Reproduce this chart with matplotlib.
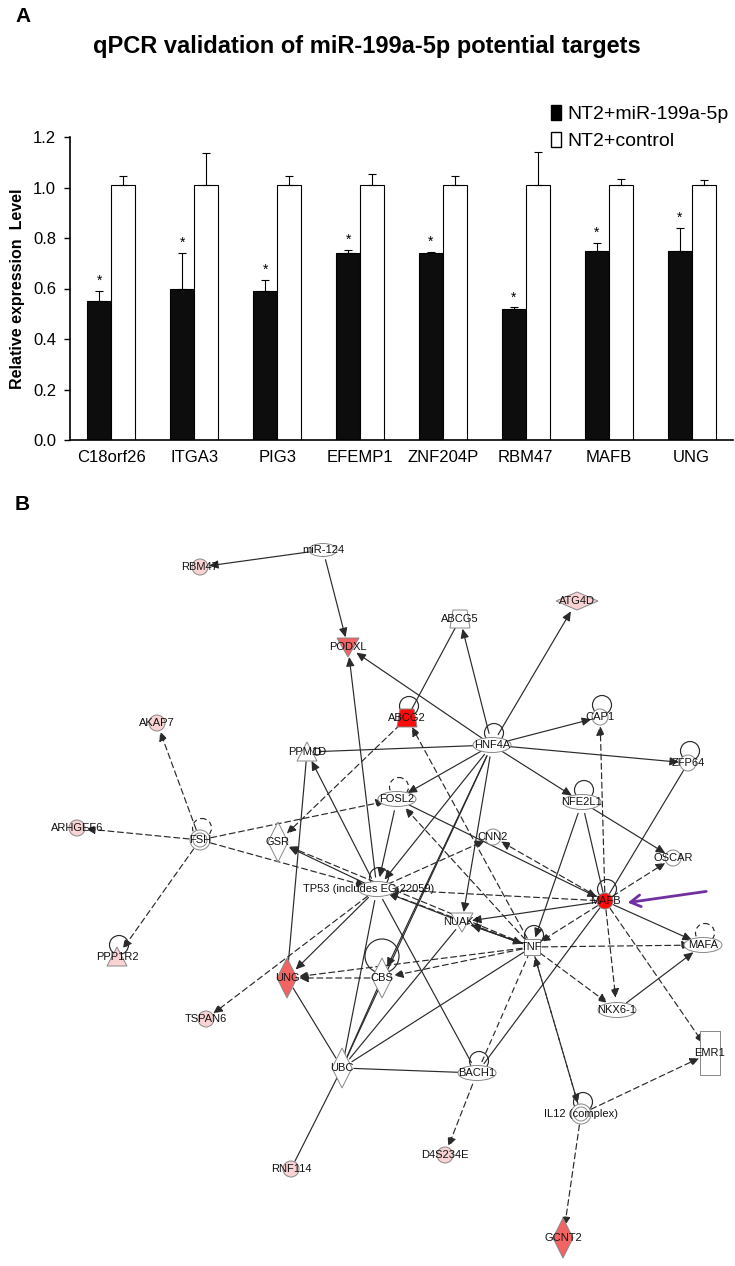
import matplotlib.pyplot as plt
import numpy as np
from matplotlib.patches import Patch, Circle, Ellipse, Polygon, Rectangle

plt.rcParams['font.family'] = ['Liberation Sans Narrow', 'Liberation Sans', 'DejaVu Sans']

# ---- panel A data ----
genes = ['C18orf26', 'ITGA3', 'PIG3', 'EFEMP1', 'ZNF204P', 'RBM47', 'MAFB', 'UNG']
mir_vals = [0.55, 0.60, 0.59, 0.74, 0.74, 0.52, 0.75, 0.75]
mir_err = [0.04, 0.14, 0.045, 0.012, 0.005, 0.005, 0.03, 0.09]
ctrl_vals = [1.01, 1.01, 1.01, 1.01, 1.01, 1.01, 1.01, 1.01]
ctrl_err = [0.035, 0.125, 0.035, 0.045, 0.035, 0.13, 0.025, 0.02]
yticks = [0.0, 0.2, 0.4, 0.6, 0.8, 1.0, 1.2]

# ---- panel B data (network layout, pixel positions) ----
node_names = ['miR-124', 'RBM47', 'PODXL', 'ATG4D', 'ABCG5', 'AKAP7', 'ABCG2', 'CAP1',
              'HNF4A', 'PPM1D', 'ZFP64', 'FOSL2', 'NFE2L1', 'ARHGEF6', 'FSH', 'GSR',
              'CNN2', 'OSCAR', 'TP53', 'MAFB', 'NUAK1', 'TNF', 'MAFA', 'PPP1R2', 'UNG',
              'CBS', 'NKX6-1', 'TSPAN6', 'EMR1', 'UBC', 'BACH1', 'IL12', 'D4S234E',
              'RNF114', 'GCNT2']
node_labels = ['miR-124', 'RBM47', 'PODXL', 'ATG4D', 'ABCG5', 'AKAP7', 'ABCG2', 'CAP1',
               'HNF4A', 'PPM1D', 'ZFP64', 'FOSL2', 'NFE2L1', 'ARHGEF6', 'FSH', 'GSR',
               'CNN2', 'OSCAR', 'TP53 (includes EG:22059)', 'MAFB', 'NUAK1', 'TNF', 'MAFA',
               'PPP1R2', 'UNG', 'CBS', 'NKX6-1', 'TSPAN6', 'EMR1', 'UBC', 'BACH1',
               'IL12 (complex)', 'D4S234E', 'RNF114', 'GCNT2']
node_x = [323, 200, 348, 577, 460, 157, 407, 600, 492, 307, 688, 397, 582, 77, 200, 278,
          493, 673, 377, 605, 462, 532, 703, 117, 287, 382, 617, 206, 710, 342, 477, 581,
          445, 291, 563]
node_y = [550, 567, 647, 601, 619, 723, 718, 717, 745, 752, 763, 799, 802, 828, 840, 842,
          837, 858, 889, 901, 922, 947, 945, 957, 978, 978, 1010, 1019, 1053, 1068, 1073,
          1114, 1155, 1169, 1238]
node_shape = ['mir', 'circle', 'tri_down', 'flat_diamond', 'trap', 'circle', 'trap', 'circle',
              'ellipse', 'tri_up', 'circle', 'ellipse', 'ellipse', 'circle', 'dcircle', 'diamond',
              'circle', 'circle', 'ellipse', 'circle', 'tri_down', 'square', 'ellipse', 'tri_up',
              'diamond', 'diamond', 'ellipse', 'circle', 'rect', 'diamond', 'ellipse', 'dcircle',
              'circle', 'circle', 'diamond']
node_color = ['white', 'pink', 'mid', 'pink', 'white', 'pink', 'red', 'white',
              'white', 'white', 'white', 'white', 'white', 'pink', 'white', 'white',
              'white', 'white', 'white', 'red', 'white', 'white', 'white', 'pink',
              'mid', 'white', 'white', 'pink', 'white', 'white', 'white', 'white',
              'pink', 'pink', 'mid']

# edges: source, target, line style, end type
edges = [
    ('miR-124', 'RBM47', '-', 'arrow'), ('miR-124', 'PODXL', '-', 'arrow'),
    ('HNF4A', 'PODXL', '-', 'arrow'), ('TP53', 'PODXL', '-', 'arrow'),
    ('HNF4A', 'ABCG5', '-', 'arrow'), ('ABCG2', 'ABCG5', '-', 'none'),
    ('HNF4A', 'ATG4D', '-', 'arrow'), ('HNF4A', 'CAP1', '-', 'arrow'),
    ('HNF4A', 'ZFP64', '-', 'arrow'), ('HNF4A', 'NFE2L1', '-', 'arrow'),
    ('HNF4A', 'FOSL2', '-', 'arrow'), ('HNF4A', 'PPM1D', '-', 'circle'),
    ('HNF4A', 'NUAK1', '-', 'arrow'), ('HNF4A', 'TP53', '-', 'arrow'),
    ('HNF4A', 'UBC', '-', 'none'), ('HNF4A', 'CBS', '-', 'arrow'),
    ('FOSL2', 'TP53', '-', 'arrow'), ('FOSL2', 'MAFB', '-', 'arrow'),
    ('MAFB', 'CNN2', '--', 'arrow'), ('TP53', 'CNN2', '--', 'arrow'),
    ('NFE2L1', 'OSCAR', '-', 'arrow'), ('NFE2L1', 'TNF', '-', 'arrow'),
    ('NFE2L1', 'MAFB', '-', 'none'), ('MAFB', 'CAP1', '--', 'arrow'),
    ('ZFP64', 'MAFB', '-', 'none'), ('MAFB', 'OSCAR', '--', 'arrow'),
    ('MAFB', 'MAFA', '-', 'arrow'), ('MAFB', 'NUAK1', '-', 'arrow'),
    ('MAFB', 'TP53', '--', 'arrow'), ('MAFB', 'TNF', '--', 'arrow'),
    ('MAFB', 'NKX6-1', '--', 'arrow'), ('MAFB', 'EMR1', '--', 'arrow'),
    ('MAFB', 'BACH1', '-', 'none'), ('TNF', 'ABCG2', '--', 'arrow'),
    ('ABCG2', 'GSR', '--', 'arrow'), ('FSH', 'AKAP7', '--', 'arrow'),
    ('FSH', 'ARHGEF6', '--', 'arrow'), ('FSH', 'PPP1R2', '--', 'arrow'),
    ('FSH', 'FOSL2', '--', 'arrow'), ('FSH', 'TP53', '--', 'arrow'),
    ('TP53', 'TSPAN6', '--', 'arrow'), ('TP53', 'GSR', '-', 'arrow'),
    ('TNF', 'GSR', '--', 'arrow'), ('PPM1D', 'UNG', '-', 'none'),
    ('TP53', 'PPM1D', '-', 'arrow'), ('TP53', 'UNG', '-', 'arrow'),
    ('TNF', 'UNG', '--', 'arrow'), ('TNF', 'CBS', '--', 'arrow'),
    ('CBS', 'UNG', '--', 'arrow'), ('NUAK1', 'TNF', '-', 'arrow'),
    ('TNF', 'NUAK1', '-', 'arrow'), ('NUAK1', 'TP53', '-', 'arrow'),
    ('UBC', 'TP53', '-', 'none'), ('UBC', 'CBS', '-', 'none'),
    ('UBC', 'NUAK1', '-', 'none'), ('UBC', 'TNF', '-', 'none'),
    ('UBC', 'BACH1', '-', 'none'), ('UBC', 'UNG', '-', 'none'),
    ('UBC', 'RNF114', '-', 'none'), ('TP53', 'BACH1', '-', 'none'),
    ('BACH1', 'D4S234E', '--', 'arrow'), ('TNF', 'IL12', '--', 'arrow'),
    ('IL12', 'TNF', '--', 'arrow'), ('IL12', 'GCNT2', '--', 'arrow'),
    ('IL12', 'EMR1', '--', 'arrow'), ('TNF', 'NKX6-1', '--', 'arrow'),
    ('TNF', 'MAFA', '--', 'arrow'), ('NKX6-1', 'MAFA', '-', 'arrow'),
    ('TNF', 'TP53', '--', 'arrow'), ('TNF', 'FOSL2', '--', 'arrow'),
    ('BACH1', 'TNF', '--', 'none'),
]
loops_solid = ['HNF4A', 'ABCG2', 'CAP1', 'ZFP64', 'NFE2L1', 'MAFB', 'TNF', 'BACH1',
               'IL12', 'PPP1R2', 'TP53']
loops_dashed = ['FSH', 'FOSL2', 'MAFA']

fills = {'white': 'white', 'pink': '#f9d3d3', 'mid': '#f26464', 'red': '#ff0a0a'}

fig = plt.figure(figsize=(7.35, 12.66), dpi=100)

# ================= panel A =================
ax = fig.add_axes([70 / 735, 1 - 440 / 1266, 663 / 735, 303 / 1266])
x = np.arange(len(genes)) + 0.5
w = 0.29
ax.bar(x - w / 2, mir_vals, w, color='#0d0d0d', edgecolor='black', linewidth=0.8)
ax.bar(x + w / 2, ctrl_vals, w, color='white', edgecolor='black', linewidth=0.8)
ax.errorbar(x - w / 2, mir_vals, yerr=[np.zeros(len(genes)), mir_err], fmt='none',
            ecolor='black', elinewidth=0.8, capsize=3, capthick=0.8)
ax.errorbar(x + w / 2, ctrl_vals, yerr=[np.zeros(len(genes)), ctrl_err], fmt='none',
            ecolor='black', elinewidth=0.8, capsize=3, capthick=0.8)
for xi, v, e in zip(x - w / 2, mir_vals, mir_err):
    ax.text(xi, v + e + 0.012, '*', ha='center', va='bottom', fontsize=10)
ax.set_xlim(0, len(genes))
ax.set_ylim(0, 1.2)
ax.set_yticks(yticks)
ax.set_yticklabels([f'{t:.1f}' for t in yticks], fontsize=12)
ax.set_xticks(x)
ax.set_xticklabels(genes, fontsize=12)
ax.tick_params(axis='x', length=0, pad=7)
ax.tick_params(axis='y', direction='out', length=4, width=1, pad=6)
for s in ['top', 'right']:
    ax.spines[s].set_visible(False)
ax.spines['left'].set_linewidth(1.2)
ax.spines['bottom'].set_linewidth(1.2)
ax.set_ylabel('Relative expression  Level', fontsize=11.5, fontweight='bold',
              family=['Liberation Sans', 'DejaVu Sans'], labelpad=6)

fig.text(15 / 735, 1 - 17 / 1266, 'A', fontsize=15, fontweight='bold',
         family=['Liberation Sans', 'DejaVu Sans'], va='center')
fig.text(367 / 735, 1 - 46 / 1266, 'qPCR validation of miR-199a-5p potential targets',
         fontsize=17, fontweight='bold', ha='center', va='center')

handles = [Patch(facecolor='black', edgecolor='black'),
           Patch(facecolor='white', edgecolor='black')]
fig.legend(handles, ['NT2+miR-199a-5p', 'NT2+control'], loc='upper left',
           bbox_to_anchor=(543 / 735, 1 - 97 / 1266), frameon=False, fontsize=14,
           handlelength=0.55, handleheight=0.8, handletextpad=0.3, labelspacing=0.45,
           borderaxespad=0)

# ================= panel B =================
bx = fig.add_axes([0, 0, 1, 796 / 1266])
bx.set_xlim(0, 735)
bx.set_ylim(1266, 470)
bx.axis('off')
fig.text(15 / 735, 1 - 505 / 1266, 'B', fontsize=15, fontweight='bold',
         family=['Liberation Sans', 'DejaVu Sans'], va='center')

pos = {n: (px, py) for n, px, py in zip(node_names, node_x, node_y)}
shape_of = dict(zip(node_names, node_shape))
radius = {'circle': 9, 'dcircle': 11, 'ellipse': 12, 'diamond': 12, 'flat_diamond': 12,
          'tri_up': 10, 'tri_down': 10, 'trap': 10, 'square': 10, 'rect': 12, 'mir': 10}

for src, dst, ls, end in edges:
    x0, y0 = pos[src]
    x1, y1 = pos[dst]
    d = np.hypot(x1 - x0, y1 - y0)
    ux, uy = (x1 - x0) / d, (y1 - y0) / d
    r0 = radius[shape_of[src]]
    r1 = radius[shape_of[dst]]
    sx, sy = x0 + ux * r0, y0 + uy * r0
    ex, ey = x1 - ux * r1, y1 - uy * r1
    lstyle = (0, (5, 3)) if ls == '--' else '-'
    if end == 'arrow':
        bx.annotate('', xy=(ex, ey), xytext=(sx, sy),
                    arrowprops=dict(arrowstyle='-|>,head_length=0.55,head_width=0.25',
                                    color='#2a2a2a', lw=0.85, linestyle=lstyle,
                                    shrinkA=0, shrinkB=0, mutation_scale=10), zorder=1)
    else:
        bx.plot([sx, ex], [sy, ey], color='#2a2a2a', lw=0.85, linestyle=lstyle, zorder=1)
        if end == 'circle':
            bx.add_patch(Circle((ex, ey), 3.5, facecolor='white', edgecolor='#2a2a2a',
                                lw=0.9, zorder=2))

for n in loops_solid + loops_dashed:
    px, py = pos[n]
    ls = (0, (4, 3)) if n in loops_dashed else '-'
    bx.add_patch(Circle((px + 2, py - 12), 9.5, fill=False, edgecolor='#2a2a2a', lw=0.85,
                        linestyle=ls, zorder=1.5))
# big loop on CBS
bx.add_patch(Circle((pos['CBS'][0], pos['CBS'][1] - 22), 17, fill=False,
                    edgecolor='#2a2a2a', lw=0.85, zorder=1.5))

ec = '#888888'
for n, lab, shp, col in zip(node_names, node_labels, node_shape, node_color):
    px, py = pos[n]
    fc = fills[col]
    if shp == 'circle':
        p = Circle((px, py), 8, facecolor=fc, edgecolor=ec, lw=0.7)
    elif shp == 'dcircle':
        bx.add_patch(Circle((px, py), 10, facecolor='white', edgecolor=ec, lw=0.7, zorder=3))
        p = Circle((px, py), 7, facecolor='white', edgecolor=ec, lw=0.7)
    elif shp == 'ellipse':
        p = Ellipse((px, py), 38, 15, facecolor=fc, edgecolor=ec, lw=0.7)
    elif shp == 'diamond':
        p = Polygon([(px, py - 20), (px + 10, py), (px, py + 20), (px - 10, py)],
                    facecolor=fc, edgecolor=ec, lw=0.7)
    elif shp == 'flat_diamond':
        p = Polygon([(px - 21, py), (px, py - 9), (px + 21, py), (px, py + 9)],
                    facecolor=fc, edgecolor=ec, lw=0.7)
    elif shp == 'tri_up':
        p = Polygon([(px - 10, py + 9), (px + 10, py + 9), (px, py - 10)],
                    facecolor=fc, edgecolor=ec, lw=0.7)
    elif shp == 'tri_down':
        p = Polygon([(px - 11, py - 9), (px + 11, py - 9), (px, py + 10)],
                    facecolor=fc, edgecolor=ec, lw=0.7)
    elif shp == 'trap':
        p = Polygon([(px - 10, py + 9), (px + 10, py + 9), (px + 7, py - 9), (px - 7, py - 9)],
                    facecolor=fc, edgecolor=ec, lw=0.7)
    elif shp == 'square':
        p = Rectangle((px - 8, py - 8), 16, 16, facecolor=fc, edgecolor=ec, lw=0.7)
    elif shp == 'rect':
        p = Rectangle((px - 10, py - 22), 20, 44, facecolor=fc, edgecolor=ec, lw=0.7)
    else:
        p = Ellipse((px, py), 28, 13, facecolor=fc, edgecolor=ec, lw=0.7)
    p.set_zorder(3)
    bx.add_patch(p)
    tx = px - 8 if n == 'TP53' else px
    bx.text(tx, py, lab, ha='center', va='center', fontsize=8, zorder=4, color='#111111')

# purple pointer to MAFB
bx.annotate('', xy=(pos['MAFB'][0] + 20, pos['MAFB'][1] + 2), xytext=(709, 891),
            arrowprops=dict(arrowstyle='->,head_length=0.6,head_width=0.35', color='#7030a0',
                            lw=2, mutation_scale=12), zorder=5)

fig.savefig('out.png', dpi=100)
